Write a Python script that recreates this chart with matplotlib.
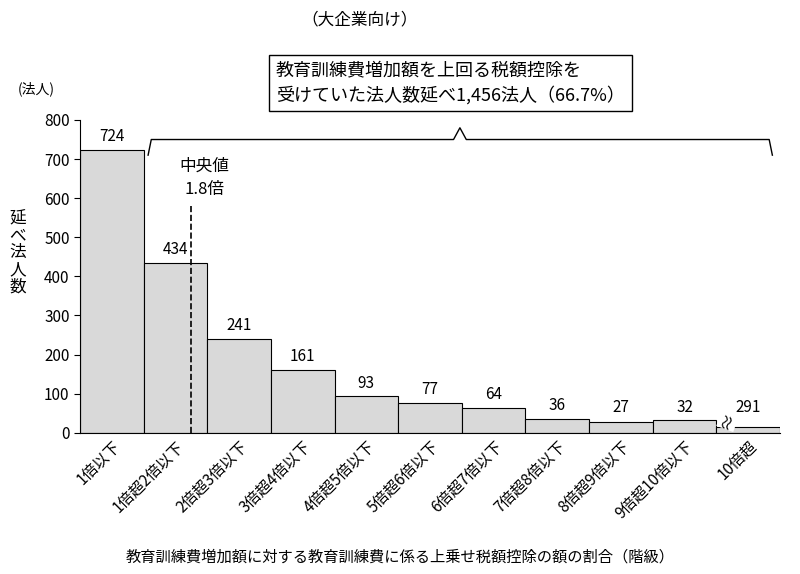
import matplotlib.pyplot as plt
import numpy as np

plt.rcParams['font.family'] = 'Noto Sans CJK JP'

categories = ['1倍以下', '1倍超2倍以下', '2倍超3倍以下', '3倍超4倍以下', '4倍超5倍以下',
              '5倍超6倍以下', '6倍超7倍以下', '7倍超8倍以下', '8倍超9倍以下',
              '9倍超10倍以下', '10倍超']
values = [724, 434, 241, 161, 93, 77, 64, 36, 27, 32, 291]
# last bar is drawn shortened (axis break)
drawn = [724, 434, 241, 161, 93, 77, 64, 36, 27, 32, 15]

fig = plt.figure(figsize=(8, 5.74), dpi=100)
ax = fig.add_axes([0.1, 0.246, 0.875, 0.545])

x = np.arange(len(categories))
ax.bar(x, drawn, width=1.0, color='#d9d9d9', edgecolor='black', linewidth=0.8)
for xi, v, d in zip(x, values, drawn):
    ax.text(xi, max(d, 32) + 12, str(v), ha='center', va='bottom', fontsize=11)

# break mark on last bar
ax.text(9.68, 2, '≈', fontsize=13, rotation=70, ha='center', va='bottom',
        bbox=dict(facecolor='white', edgecolor='none', pad=0))

ax.set_xlim(-0.5, 10.5)
ax.set_ylim(0, 800)
ax.set_yticks(range(0, 801, 100))
ax.set_xticks(x)
ax.set_xticklabels(categories, rotation=45, ha='right', rotation_mode='anchor', fontsize=10)
ax.tick_params(labelsize=11, length=0)
ax.tick_params(axis='y', length=4)
ax.spines['top'].set_visible(False)
ax.spines['right'].set_visible(False)

# median
ax.plot([1.25, 1.25], [0, 580], 'k--', lw=1.2)
ax.text(1.45, 600, '中央値\n1.8倍', ha='center', va='bottom', fontsize=12, linespacing=1.5)

# brace
bx0, bx1, by, bm = 0.57, 10.38, 750, 5.47
ax.plot([bx0, bx0 + 0.05, bm - 0.1, bm, bm + 0.1, bx1 - 0.05, bx1],
        [710, by, by, 780, by, by, 710], color='black', lw=1, clip_on=False)

fig.text(0.45, 0.965, '（大企業向け）', ha='center', va='center', fontsize=12)
fig.text(0.045, 0.845, '(法人)', ha='center', va='center', fontsize=10)
fig.text(0.022, 0.56, '延\nべ\n法\n人\n数', ha='center', va='center', fontsize=12, linespacing=1.0)
fig.text(0.345, 0.855, '教育訓練費増加額を上回る税額控除を\n受けていた法人数延べ1,456法人（66.7%）',
         ha='left', va='center', fontsize=13, linespacing=1.4,
         bbox=dict(facecolor='white', edgecolor='black', pad=5))
fig.text(0.5, 0.03, '教育訓練費増加額に対する教育訓練費に係る上乗せ税額控除の額の割合（階級）',
         ha='center', va='center', fontsize=11)

fig.savefig('out.png', dpi=100)
